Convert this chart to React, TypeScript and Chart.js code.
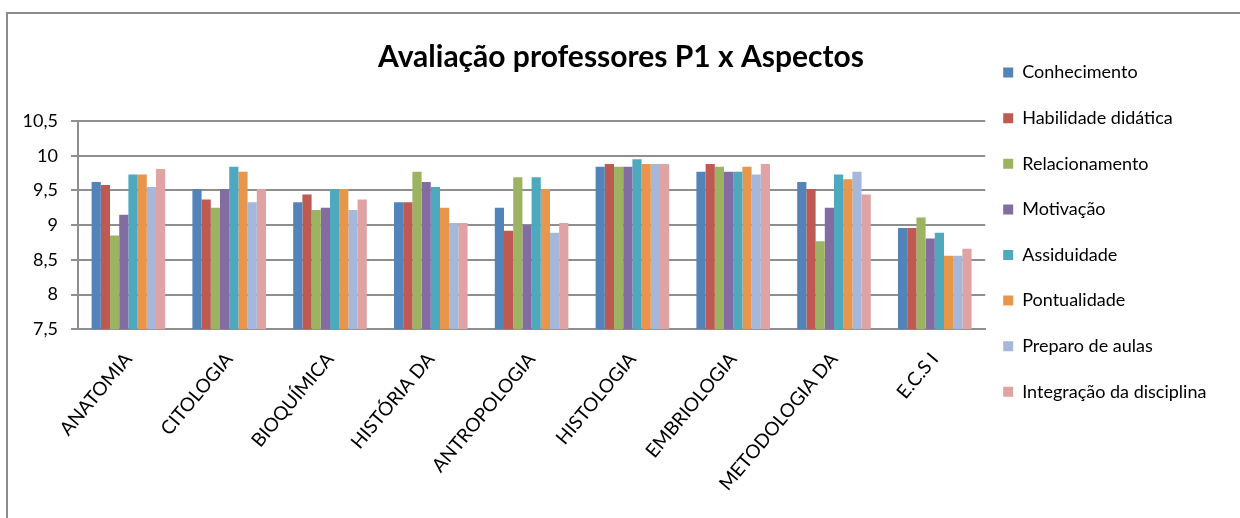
import { useEffect, useRef } from "react";
import { Chart, registerables } from "chart.js";

Chart.register(...registerables);

const chartTitle = "Avaliação professores P1 x Aspectos";

const categories = [
  "ANATOMIA",
  "CITOLOGIA",
  "BIOQUÍMICA",
  "HISTÓRIA DA",
  "ANTROPOLOGIA",
  "HISTOLOGIA",
  "EMBRIOLOGIA",
  "METODOLOGIA DA",
  "E.C.S I",
];

const seriesNames = [
  "Conhecimento",
  "Habilidade didática",
  "Relacionamento",
  "Motivação",
  "Assiduidade",
  "Pontualidade",
  "Preparo de aulas",
  "Integração da disciplina",
];

const seriesColors = [
  "#5283B9",
  "#BE5A52",
  "#9CB462",
  "#836CA2",
  "#4EA9BF",
  "#E7964C",
  "#A5B8DB",
  "#DEA3A2",
];

const conhecimento = [9.62, 9.52, 9.33, 9.33, 9.25, 9.84, 9.77, 9.62, 8.96];
const habilidadeDidatica = [9.58, 9.37, 9.44, 9.33, 8.92, 9.88, 9.88, 9.52, 8.96];
const relacionamento = [8.85, 9.25, 9.22, 9.77, 9.69, 9.84, 9.84, 8.77, 9.11];
const motivacao = [9.15, 9.52, 9.25, 9.62, 9.0, 9.84, 9.77, 9.25, 8.81];
const assiduidade = [9.73, 9.84, 9.52, 9.55, 9.69, 9.95, 9.77, 9.73, 8.89];
const pontualidade = [9.73, 9.77, 9.52, 9.25, 9.52, 9.88, 9.84, 9.66, 8.56];
const preparoDeAulas = [9.55, 9.33, 9.22, 9.03, 8.89, 9.88, 9.73, 9.77, 8.56];
const integracao = [9.81, 9.52, 9.37, 9.03, 9.03, 9.88, 9.88, 9.44, 8.66];

const seriesValues = [
  conhecimento,
  habilidadeDidatica,
  relacionamento,
  motivacao,
  assiduidade,
  pontualidade,
  preparoDeAulas,
  integracao,
];

const yMin = 7.5;
const yMax = 10.5;
const yStep = 0.5;

const FONT = "Lato, 'Open Sans', sans-serif";
const GRID = "#8e8e8e";

const frameAndLegendPlugin = {
  id: "frameAndLegend",
  afterLayout(chart: any) {
    const legend = chart.legend;
    if (legend) {
      const pad = legend.options.labels.padding;
      const desired = chart.chartArea.right + 18;
      const shift = desired - (legend.left + pad);
      legend.left += shift;
      legend.right += shift;
    }
    const title = chart.titleBlock;
    if (title) {
      title.left += 4;
      title.right += 4;
    }
  },
  beforeDraw(chart: any) {
    const ctx = chart.ctx;
    ctx.save();
    ctx.fillStyle = "#ffffff";
    ctx.fillRect(0, 0, chart.width, chart.height);
    ctx.strokeStyle = "#8c8c8c";
    ctx.lineWidth = 2;
    ctx.strokeRect(7, 13, 1400, 700);
    ctx.restore();
  },
};

export default function App() {
  const canvasRef = useRef<HTMLCanvasElement | null>(null);

  useEffect(() => {
    const canvas = canvasRef.current;
    if (!canvas) return;
    const chart = new Chart(canvas, {
      type: "bar",
      data: {
        labels: categories,
        datasets: seriesNames.map((name, i) => ({
          label: name,
          data: seriesValues[i],
          backgroundColor: seriesColors[i],
          borderWidth: 0,
          barPercentage: 1,
          categoryPercentage: 0.73,
        })),
      },
      options: {
        responsive: false,
        animation: false,
        devicePixelRatio: 1,
        layout: {
          padding: { left: 8, top: 36, right: 14, bottom: 12 },
        },
        plugins: {
          title: {
            display: true,
            text: chartTitle,
            color: "#000",
            font: { family: FONT, size: 30, weight: "bold" },
            padding: { top: 3, bottom: 46 },
          },
          legend: {
            display: true,
            position: "right",
            align: "start",
            labels: {
              color: "#000",
              boxWidth: 10,
              boxHeight: 10,
              padding: 27.6,
              font: { family: FONT, size: 18 },
            },
          },
          tooltip: { enabled: false },
        },
        scales: {
          x: {
            grid: { display: false },
            border: { display: true, color: GRID, width: 2 },
            ticks: {
              color: "#000",
              font: { family: FONT, size: 19 },
              minRotation: 50,
              maxRotation: 50,
              autoSkip: false,
              padding: 11,
            },
          },
          y: {
            min: yMin,
            max: yMax,
            afterFit(scale: any) {
              scale.width = 70;
            },
            grid: { color: GRID, lineWidth: 2, tickLength: 7 },
            border: { display: true, color: GRID, width: 2 },
            ticks: {
              stepSize: yStep,
              color: "#000",
              font: { family: FONT, size: 18 },
              padding: 13,
              callback: (v: any) => String(v).replace(".", ","),
            },
          },
        },
      },
      plugins: [frameAndLegendPlugin],
    });
    return () => chart.destroy();
  }, []);

  return (
    <div style={{ position: "absolute", left: 0, top: 0, width: 1240, height: 518 }}>
      <canvas ref={canvasRef} width={1240} height={518} style={{ display: "block" }} />
    </div>
  );
}
